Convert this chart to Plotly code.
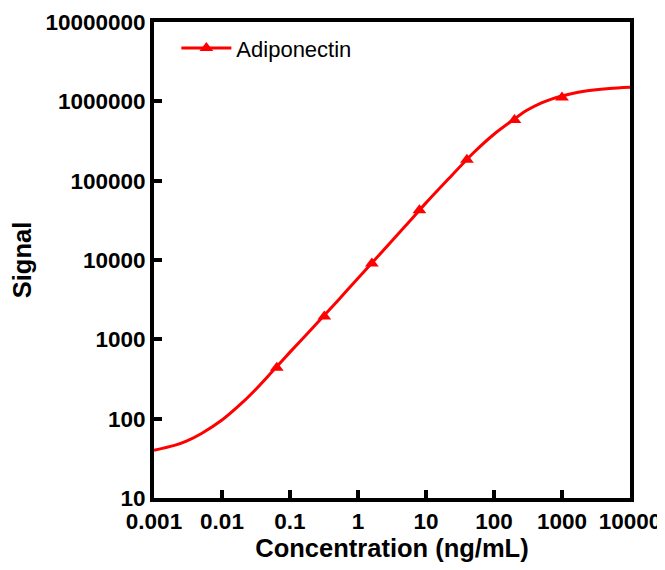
import plotly.graph_objects as go

# Measured standard points (5-fold dilution series)
conc = [0.064, 0.32, 1.6, 8.0, 40.0, 200.0, 1000.0]
signal = [437, 1940, 9060, 42300, 184000, 581000, 1117000]

# Fitted curve
curve_conc = [0.001, 0.002, 0.003, 0.005, 0.01, 0.02, 0.03, 0.05, 0.1, 0.2,
              0.5, 1, 2, 5, 10, 20, 50, 100, 200, 300, 500, 700, 1000, 2000, 5000, 10000]
curve_signal = [40, 46, 52, 65, 96, 160, 225, 360, 690, 1300,
                3050, 5900, 11300, 27000, 52500, 99000, 225000, 385000, 600000, 765000,
                955000, 1065000, 1165000, 1330000, 1450000, 1500000]

x_ticks = [0.001, 0.01, 0.1, 1, 10, 100, 1000, 10000]
x_ticktext = ["0.001", "0.01", "0.1", "1", "10", "100", "1000", "10000"]
y_ticks = [10, 100, 1000, 10000, 100000, 1000000, 10000000]
y_ticktext = ["10", "100", "1000", "10000", "100000", "1000000", "10000000"]

series_name = "Adiponectin"
RED = "#FF0000"
FONT = "Liberation Sans"

fig = go.Figure()
fig.add_trace(go.Scatter(x=curve_conc, y=curve_signal, mode="lines",
                         line=dict(color=RED, width=3, shape="spline", smoothing=0.8),
                         showlegend=False, hoverinfo="skip"))
fig.add_trace(go.Scatter(x=conc, y=signal, mode="markers",
                         marker=dict(symbol="triangle-up", size=12, color=RED),
                         showlegend=False))
# legend entry (line + triangle)
fig.add_trace(go.Scatter(x=[None], y=[None], mode="lines+markers", name=series_name,
                         line=dict(color=RED, width=3),
                         marker=dict(symbol="triangle-up", size=12, color=RED)))

axis_common = dict(
    type="log", showgrid=False, zeroline=False, automargin=False,
    showline=True, linecolor="black", linewidth=4, mirror=True,
    ticks="inside", ticklen=8, tickwidth=3.5, tickcolor="black",
    tickfont=dict(family=FONT, size=22.5, color="black", weight="bold"),
)

fig.update_xaxes(range=[-3, 4], tickvals=x_ticks, ticktext=x_ticktext,
                 title=dict(text="Concentration (ng/mL)", standoff=6,
                            font=dict(family=FONT, size=25.5, color="black", weight="bold")),
                 **axis_common)
fig.update_yaxes(range=[1, 7], tickvals=y_ticks, ticktext=y_ticktext,
                 title=dict(text="Signal", standoff=8,
                            font=dict(family=FONT, size=25.5, color="black", weight="bold")),
                 **axis_common)

# the page body adds an 8 px offset, so the figure is 8 px smaller than the window
fig.update_layout(
    width=657, height=562,
    margin=dict(l=145.5, r=34.5, t=13.5, b=72, pad=0, autoexpand=False),
    plot_bgcolor="white", paper_bgcolor="white",
    showlegend=True,
    legend=dict(x=0.047, y=0.945, xanchor="left", yanchor="middle",
                bgcolor="rgba(0,0,0,0)", itemwidth=50,
                font=dict(family=FONT, size=22, color="black")),
)

fig.write_html("out.html")
